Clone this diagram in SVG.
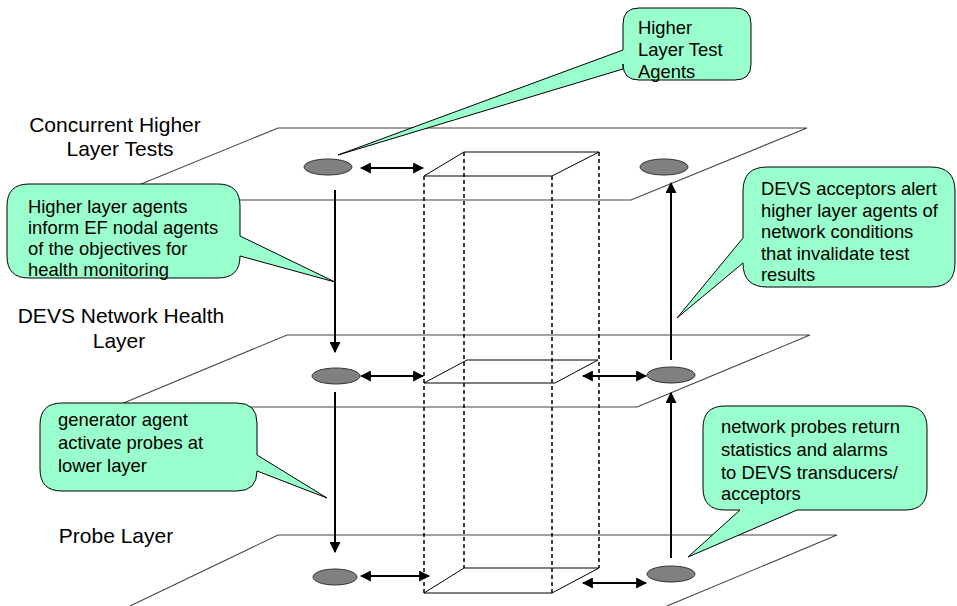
<svg xmlns="http://www.w3.org/2000/svg" width="957" height="606" viewBox="0 0 957 606">
  <style>
    .plane { fill: none; stroke: #444; stroke-width: 1.1; }
    .face { fill: none; stroke: #000; stroke-width: 1; }
    .dash { fill: none; stroke: #000; stroke-width: 1.5; stroke-dasharray: 4 3; }
    .arrow { fill: none; stroke: #000; stroke-width: 2; }
    .node { fill: #808080; stroke: #333; stroke-width: 1; }
    .callout { fill: #99FFCC; stroke: #000; stroke-width: 1; }
    .txt { font-family: "Liberation Sans", Arial, sans-serif; font-size: 18.4px; fill: #000; }
    .lbl { font-family: "Liberation Sans", Arial, sans-serif; font-size: 21px; fill: #000; text-anchor: middle; }
  </style>
  <defs>
    <marker id="head" viewBox="0 0 10 10" refX="9" refY="5" markerWidth="11" markerHeight="11" markerUnits="userSpaceOnUse" orient="auto-start-reverse">
      <path d="M0,0 L10,5 L0,10 z" fill="#000"/>
    </marker>
  </defs>

  <rect width="957" height="606" fill="#fff"/>

  <!-- layer planes -->
  <g id="planes">
    <polygon class="plane" points="278,128 807,128 631,200 102,200"/>
    <polygon class="plane" points="287,335 810,335 637,407 114,407"/>
    <polyline class="plane" points="130,606 278,535 837,535 667,606"/>
  </g>

  <!-- EF prism crossing the layers -->
  <g id="prism">
    <polygon class="face" points="424,176 464,152 599,152 552,176"/>
    <polygon class="face" points="424,383 467,360 598,360 555,383"/>
    <polygon class="face" points="424,593 464,568 599,568 552,593"/>
    <line class="dash" x1="424" y1="176" x2="424" y2="593"/>
    <line class="dash" x1="464" y1="152" x2="464" y2="568"/>
    <line class="dash" x1="552" y1="176" x2="552" y2="593"/>
    <line class="dash" x1="599" y1="152" x2="599" y2="568"/>
  </g>

  <!-- connectors -->
  <g id="connectors">
    <line class="arrow" x1="335" y1="190" x2="335" y2="352" marker-end="url(#head)"/>
    <line class="arrow" x1="335" y1="392" x2="335" y2="552" marker-end="url(#head)"/>
    <line class="arrow" x1="671" y1="360" x2="671" y2="183" marker-end="url(#head)"/>
    <line class="arrow" x1="671" y1="558" x2="671" y2="393" marker-end="url(#head)"/>
    <line class="arrow" x1="361" y1="168" x2="423" y2="168" marker-start="url(#head)" marker-end="url(#head)"/>
    <line class="arrow" x1="361" y1="376" x2="423" y2="376" marker-start="url(#head)" marker-end="url(#head)"/>
    <line class="arrow" x1="583" y1="376" x2="646" y2="376" marker-start="url(#head)" marker-end="url(#head)"/>
    <line class="arrow" x1="361" y1="576" x2="429" y2="576" marker-start="url(#head)" marker-end="url(#head)"/>
    <line class="arrow" x1="583" y1="583" x2="646" y2="583" marker-start="url(#head)" marker-end="url(#head)"/>
  </g>

  <!-- agent nodes -->
  <g id="agent-top-left"><ellipse class="node" cx="328" cy="167" rx="24" ry="8"/></g>
  <g id="agent-top-right"><ellipse class="node" cx="664" cy="167" rx="24" ry="8"/></g>
  <g id="agent-mid-left"><ellipse class="node" cx="336" cy="376" rx="24" ry="8"/></g>
  <g id="agent-mid-right"><ellipse class="node" cx="671" cy="375" rx="24" ry="8"/></g>
  <g id="agent-low-left"><ellipse class="node" cx="335" cy="577" rx="22" ry="8"/></g>
  <g id="agent-low-right"><ellipse class="node" cx="671" cy="574" rx="24" ry="8"/></g>

  <!-- layer labels -->
  <g id="label-higher">
    <text class="lbl" x="115" y="132">Concurrent Higher</text>
    <text class="lbl" x="120" y="156">Layer Tests</text>
  </g>
  <g id="label-health">
    <text class="lbl" x="121" y="323">DEVS Network Health</text>
    <text class="lbl" x="119" y="348">Layer</text>
  </g>
  <g id="label-probe">
    <text class="lbl" x="116" y="543">Probe Layer</text>
  </g>

  <!-- callouts -->
  <g id="callout-test-agents">
    <path class="callout" d="M639,8 H735 Q751,8 751,24 V64 Q751,80 735,80 H639 Q623,80 623,64 V69 L338,155 L623,50 V24 Q623,8 639,8 Z"/>
    <text class="txt" x="638" y="34">Higher</text>
    <text class="txt" x="638" y="56">Layer Test</text>
    <text class="txt" x="638" y="78">Agents</text>
  </g>
  <g id="callout-objectives">
    <path class="callout" d="M29,184 H218 Q240,184 240,206 V236 L335,282 L240,256 Q240,278 218,278 H29 Q7,278 7,256 V206 Q7,184 29,184 Z"/>
    <text class="txt" x="28" y="213">Higher layer agents</text>
    <text class="txt" x="28" y="234">inform EF nodal agents</text>
    <text class="txt" x="28" y="255">of the objectives for</text>
    <text class="txt" x="28" y="276">health monitoring</text>
  </g>
  <g id="callout-acceptors">
    <path class="callout" d="M767,167 H931 Q955,167 955,191 V263 Q955,287 931,287 H767 Q743,287 743,263 L677,318 L743,238 V191 Q743,167 767,167 Z"/>
    <text class="txt" x="761" y="195">DEVS acceptors alert</text>
    <text class="txt" x="761" y="217">higher layer agents of</text>
    <text class="txt" x="761" y="238">network conditions</text>
    <text class="txt" x="761" y="260">that invalidate test</text>
    <text class="txt" x="761" y="281">results</text>
  </g>
  <g id="callout-generator">
    <path class="callout" d="M62,403 H237 Q257,403 257,423 V455 L327,498 L257,471 Q257,491 237,491 H62 Q40,491 40,469 V425 Q40,403 62,403 Z"/>
    <text class="txt" x="58" y="426">generator agent</text>
    <text class="txt" x="58" y="449">activate probes at</text>
    <text class="txt" x="58" y="472">lower layer</text>
  </g>
  <g id="callout-probes">
    <path class="callout" d="M725,406 H905 Q927,406 927,428 V488 Q927,510 905,510 H797 L688,557 L740,510 H725 Q703,510 703,488 V428 Q703,406 725,406 Z"/>
    <text class="txt" x="721" y="433">network probes return</text>
    <text class="txt" x="721" y="456">statistics and alarms</text>
    <text class="txt" x="721" y="479">to DEVS transducers/</text>
    <text class="txt" x="721" y="500">acceptors</text>
  </g>
</svg>
